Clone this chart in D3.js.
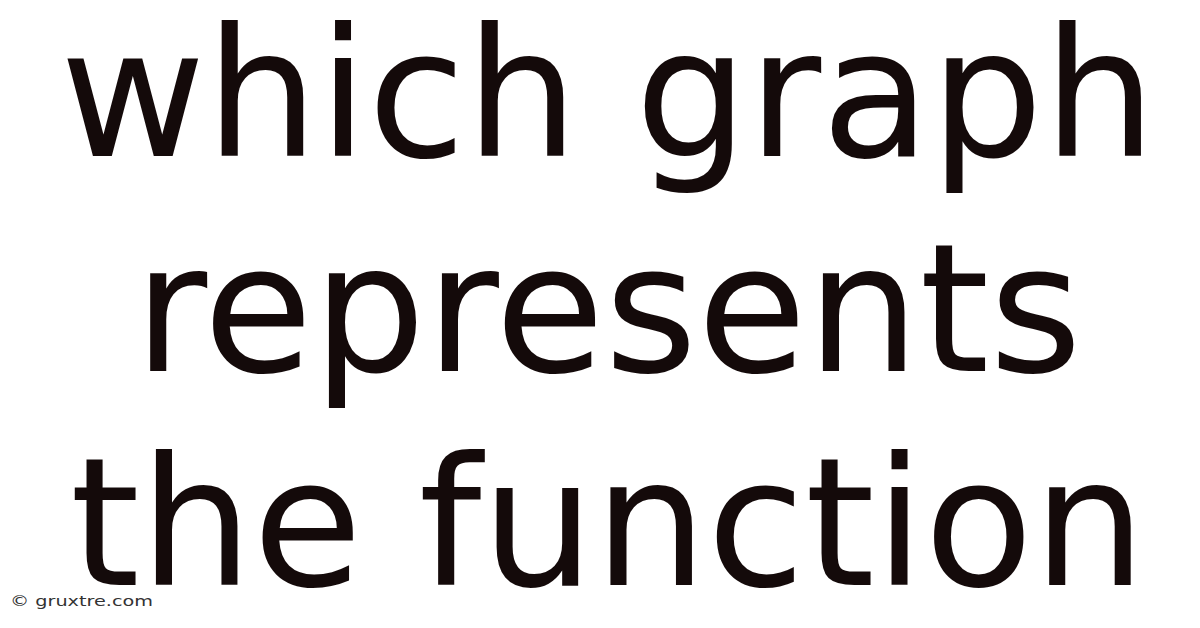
<!DOCTYPE html>
<html>
<head>
<meta charset="utf-8">
<script src="https://cdn.jsdelivr.net/npm/d3@7"></script>
<style>
  html, body { margin: 0; padding: 0; background: #fff; }
</style>
</head>
<body>
<div id="chart"></div>
<script>
// title lines, top to bottom
const lines = ["which graph", "represents", "the function"];
const watermark = "© gruxtre.com";

const width = 1200;
const height = 628;
const fontSize = 178;

const svg = d3.select("#chart").append("svg")
    .attr("width", width)
    .attr("height", height)
    .attr("viewBox", [0, 0, width, height]);

svg.append("rect")
    .attr("width", width)
    .attr("height", height)
    .attr("fill", "#fff");

// baseline positions for each line
const y = d3.scalePoint(d3.range(lines.length), [156, 585]);

svg.append("g")
    .attr("font-family", "'DejaVu Sans', sans-serif")
    .attr("font-size", fontSize)
    .attr("fill", "#140a0a")
    .attr("text-anchor", "middle")
  .selectAll("text")
  .data(lines)
  .join("text")
    .attr("x", width / 2 + 8)
    .attr("y", (d, i) => y(i))
    .text(d => d);

// the watermark is drawn wide, stretch it to its measured length
svg.append("text")
    .attr("x", 10)
    .attr("y", 606)
    .attr("font-family", "'DejaVu Sans', sans-serif")
    .attr("font-size", 13.5)
    .attr("textLength", 143)
    .attr("lengthAdjust", "spacingAndGlyphs")
    .attr("fill", "#333")
    .text(watermark);
</script>
</body>
</html>
